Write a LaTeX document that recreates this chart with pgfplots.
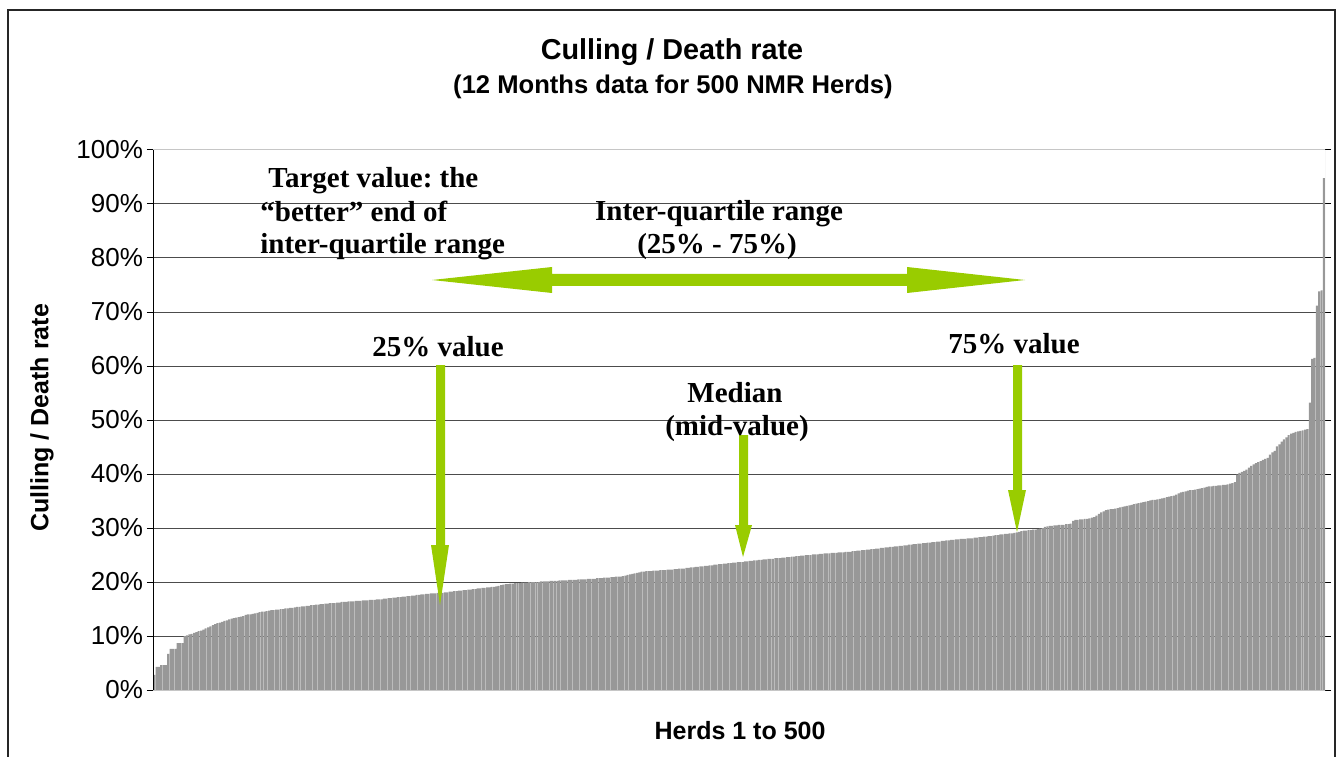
\documentclass[border=0pt]{standalone}
\usepackage{fontspec}
\setmainfont{Liberation Sans}
\newfontfamily\serifb{Liberation Serif}
\usepackage{pgfplots}
\usepackage{pgfplotstable}
\pgfplotsset{compat=1.18}
\definecolor{barcol}{RGB}{152,152,152}
\definecolor{arrgreen}{RGB}{153,204,0}
\frenchspacing
\pgfplotstableread[row sep=\\]{
v\\
2.8\\ 4.3\\ 4.3\\ 4.6\\ 4.6\\ 4.6\\ 6.7\\ 7.6\\ 7.6\\ 7.6\\
8.7\\ 8.7\\ 8.7\\ 10.0\\ 10.1\\ 10.3\\ 10.4\\ 10.6\\ 10.7\\ 10.9\\
11.0\\ 11.2\\ 11.4\\ 11.6\\ 11.8\\ 12.0\\ 12.2\\ 12.4\\ 12.5\\ 12.6\\
12.8\\ 12.9\\ 13.1\\ 13.2\\ 13.3\\ 13.4\\ 13.5\\ 13.6\\ 13.7\\ 13.9\\
14.0\\ 14.0\\ 14.1\\ 14.2\\ 14.3\\ 14.4\\ 14.5\\ 14.5\\ 14.6\\ 14.7\\
14.8\\ 14.8\\ 14.9\\ 14.9\\ 15.0\\ 15.0\\ 15.1\\ 15.1\\ 15.2\\ 15.2\\
15.3\\ 15.4\\ 15.4\\ 15.5\\ 15.5\\ 15.6\\ 15.6\\ 15.7\\ 15.7\\ 15.8\\
15.8\\ 15.9\\ 15.9\\ 16.0\\ 16.0\\ 16.1\\ 16.1\\ 16.1\\ 16.2\\ 16.2\\
16.3\\ 16.3\\ 16.3\\ 16.4\\ 16.4\\ 16.4\\ 16.5\\ 16.5\\ 16.5\\ 16.6\\
16.6\\ 16.6\\ 16.7\\ 16.7\\ 16.7\\ 16.8\\ 16.8\\ 16.8\\ 16.9\\ 16.9\\
17.0\\ 17.0\\ 17.1\\ 17.1\\ 17.2\\ 17.2\\ 17.3\\ 17.3\\ 17.4\\ 17.4\\
17.5\\ 17.5\\ 17.6\\ 17.6\\ 17.7\\ 17.7\\ 17.8\\ 17.8\\ 17.9\\ 17.9\\
17.9\\ 18.0\\ 18.0\\ 18.0\\ 18.1\\ 18.1\\ 18.2\\ 18.2\\ 18.3\\ 18.3\\
18.4\\ 18.4\\ 18.5\\ 18.5\\ 18.6\\ 18.6\\ 18.7\\ 18.7\\ 18.8\\ 18.8\\
18.9\\ 18.9\\ 19.0\\ 19.0\\ 19.1\\ 19.1\\ 19.2\\ 19.3\\ 19.4\\ 19.5\\
19.6\\ 19.6\\ 19.7\\ 19.7\\ 19.8\\ 19.8\\ 19.8\\ 19.9\\ 19.9\\ 19.9\\
20.0\\ 20.0\\ 20.0\\ 20.0\\ 20.0\\ 20.1\\ 20.1\\ 20.1\\ 20.1\\ 20.2\\
20.2\\ 20.2\\ 20.2\\ 20.3\\ 20.3\\ 20.3\\ 20.3\\ 20.4\\ 20.4\\ 20.4\\
20.4\\ 20.5\\ 20.5\\ 20.5\\ 20.5\\ 20.6\\ 20.6\\ 20.6\\ 20.6\\ 20.7\\
20.7\\ 20.7\\ 20.8\\ 20.8\\ 20.8\\ 20.9\\ 20.9\\ 21.0\\ 21.0\\ 21.0\\
21.1\\ 21.2\\ 21.3\\ 21.4\\ 21.5\\ 21.6\\ 21.7\\ 21.8\\ 21.9\\ 21.9\\
22.0\\ 22.0\\ 22.0\\ 22.1\\ 22.1\\ 22.1\\ 22.2\\ 22.2\\ 22.2\\ 22.3\\
22.3\\ 22.3\\ 22.4\\ 22.4\\ 22.5\\ 22.5\\ 22.5\\ 22.6\\ 22.6\\ 22.7\\
22.7\\ 22.8\\ 22.8\\ 22.9\\ 22.9\\ 23.0\\ 23.0\\ 23.1\\ 23.1\\ 23.2\\
23.2\\ 23.3\\ 23.3\\ 23.4\\ 23.4\\ 23.5\\ 23.5\\ 23.6\\ 23.6\\ 23.7\\
23.7\\ 23.7\\ 23.8\\ 23.8\\ 23.9\\ 23.9\\ 24.0\\ 24.0\\ 24.1\\ 24.1\\
24.2\\ 24.2\\ 24.3\\ 24.3\\ 24.3\\ 24.4\\ 24.4\\ 24.4\\ 24.5\\ 24.5\\
24.6\\ 24.6\\ 24.7\\ 24.7\\ 24.8\\ 24.8\\ 24.9\\ 24.9\\ 25.0\\ 25.0\\
25.0\\ 25.1\\ 25.1\\ 25.1\\ 25.2\\ 25.2\\ 25.3\\ 25.3\\ 25.3\\ 25.4\\
25.4\\ 25.4\\ 25.5\\ 25.5\\ 25.5\\ 25.6\\ 25.6\\ 25.6\\ 25.7\\ 25.7\\
25.8\\ 25.8\\ 25.9\\ 25.9\\ 26.0\\ 26.0\\ 26.1\\ 26.1\\ 26.2\\ 26.2\\
26.3\\ 26.3\\ 26.4\\ 26.4\\ 26.5\\ 26.5\\ 26.6\\ 26.6\\ 26.7\\ 26.7\\
26.8\\ 26.8\\ 26.9\\ 26.9\\ 27.0\\ 27.0\\ 27.1\\ 27.1\\ 27.2\\ 27.2\\
27.3\\ 27.3\\ 27.4\\ 27.4\\ 27.5\\ 27.5\\ 27.6\\ 27.6\\ 27.7\\ 27.7\\
27.8\\ 27.8\\ 27.9\\ 27.9\\ 28.0\\ 28.0\\ 28.0\\ 28.1\\ 28.1\\ 28.1\\
28.2\\ 28.2\\ 28.3\\ 28.3\\ 28.4\\ 28.4\\ 28.5\\ 28.5\\ 28.6\\ 28.7\\
28.7\\ 28.8\\ 28.8\\ 28.9\\ 28.9\\ 29.0\\ 29.0\\ 29.1\\ 29.2\\ 29.3\\
29.4\\ 29.5\\ 29.5\\ 29.6\\ 29.6\\ 29.7\\ 29.7\\ 29.8\\ 29.9\\ 30.0\\
30.2\\ 30.3\\ 30.4\\ 30.4\\ 30.5\\ 30.5\\ 30.6\\ 30.6\\ 30.6\\ 30.7\\
30.7\\ 30.8\\ 31.3\\ 31.5\\ 31.5\\ 31.6\\ 31.6\\ 31.7\\ 31.7\\ 31.8\\
31.9\\ 32.0\\ 32.3\\ 32.6\\ 32.9\\ 33.1\\ 33.3\\ 33.4\\ 33.5\\ 33.5\\
33.6\\ 33.7\\ 33.8\\ 33.9\\ 34.0\\ 34.1\\ 34.2\\ 34.3\\ 34.4\\ 34.5\\
34.6\\ 34.7\\ 34.8\\ 34.9\\ 35.0\\ 35.1\\ 35.2\\ 35.2\\ 35.3\\ 35.4\\
35.5\\ 35.6\\ 35.7\\ 35.8\\ 35.9\\ 36.0\\ 36.2\\ 36.4\\ 36.6\\ 36.7\\
36.8\\ 36.9\\ 37.0\\ 37.0\\ 37.1\\ 37.2\\ 37.3\\ 37.4\\ 37.5\\ 37.6\\
37.7\\ 37.7\\ 37.8\\ 37.8\\ 37.9\\ 37.9\\ 38.0\\ 38.0\\ 38.1\\ 38.2\\
38.3\\ 38.5\\ 39.9\\ 40.2\\ 40.4\\ 40.6\\ 40.8\\ 41.2\\ 41.5\\ 41.8\\
42.0\\ 42.2\\ 42.4\\ 42.6\\ 42.8\\ 43.0\\ 43.6\\ 44.0\\ 44.3\\ 45.1\\
45.5\\ 46.0\\ 46.4\\ 46.8\\ 47.2\\ 47.5\\ 47.6\\ 47.8\\ 47.9\\ 48.0\\
48.1\\ 48.2\\ 48.3\\ 53.2\\ 61.3\\ 61.5\\ 71.2\\ 73.8\\ 74.0\\ 94.8\\
}\datatable
\begin{document}
\begin{tikzpicture}
\useasboundingbox (0,0) rectangle (668.5pt,378pt);
\begin{axis}[
  at={(76.5pt,33pt)}, anchor=south west,
  scale only axis, width=586pt, height=270pt,
  xmin=-0.5, xmax=499.5, ymin=0, ymax=100,
  ytick={0,10,...,100}, xtick=\empty,
  yticklabel={\pgfmathprintnumber{\tick}\%},
  /pgf/number format/assume math mode=true,
  yticklabel style={font=\fontsize{13}{15}\selectfont, xshift=1.5pt},
  tick align=outside, major tick length=3pt,
  ytick style={black, line width=0.5pt},
  ymajorgrids, grid style={black!70, line width=0.5pt},
  axis line style={draw=none},
  xlabel={\bfseries Herds 1 to 500},
  xlabel style={font=\fontsize{12.5}{14}\selectfont, at={(axis description cs:0.5009,-0.076)}, anchor=center},
  ylabel={\bfseries Culling / Death rate},
  ylabel style={font=\fontsize{12.5}{14}\selectfont, at={(axis description cs:-0.0947,0.504)}, anchor=center},
]
\addplot[ybar, bar width=0.85, fill=barcol, draw=none] table[x expr=\coordindex, y=v] {\datatable};
\draw[gray!45, line width=0.5pt] (rel axis cs:0,1) -- (rel axis cs:1,1) -- (rel axis cs:1,0) -- (rel axis cs:0,0);
\draw[black, line width=0.7pt] (rel axis cs:0,0) -- (rel axis cs:0,1);
\end{axis}
\begin{scope}[shift={(0pt,378pt)}, x=0.5pt, y=-0.5pt]
  \draw[black!85, line width=0.75pt] (8,770) -- (8,10) -- (1335,10) -- (1335,770);
  \node[anchor=base, font=\bfseries\fontsize{14.4}{16}\selectfont] at (672,60) {Culling / Death rate};
  \node[anchor=base, font=\bfseries\fontsize{12.8}{15}\selectfont] at (673,94) {(12 Months data for 500 NMR Herds)};
  % arrows
  \fill[arrgreen] (432,280) -- (552,267) -- (552,274) -- (907,274) -- (907,267) -- (1025,280) -- (907,293) -- (907,286) -- (552,286) -- (552,293) -- cycle;
  \fill[arrgreen] (436,365) -- (445,365) -- (445,545) -- (449,545) -- (440,605) -- (431,545) -- (436,545) -- cycle;
  \fill[arrgreen] (739,435) -- (748,435) -- (748,525) -- (752,525) -- (743,557) -- (735,525) -- (739,525) -- cycle;
  \fill[arrgreen] (1013,365) -- (1022,365) -- (1022,490) -- (1026,490) -- (1017,532) -- (1008,490) -- (1013,490) -- cycle;
  % texts
  \begin{scope}[every node/.style={font=\serifb\bfseries\fontsize{14.5}{16}\selectfont, inner sep=0pt}]
    \node[anchor=base west] at (268,188) {Target value: the};
    \node[anchor=base west] at (260,222) {“better” end of};
    \node[anchor=base west] at (260,254) {inter-quartile range};
    \node[anchor=base] at (719,221) {Inter-quartile range};
    \node[anchor=base] at (717,254) {(25\% - 75\%)};
    \node[anchor=base] at (438,356) {25\% value};
    \node[anchor=base] at (1014,354) {75\% value};
    \node[anchor=base] at (735,402) {Median};
    \node[anchor=base] at (737,435) {(mid-value)};
  \end{scope}
\end{scope}
\end{tikzpicture}
\end{document}
